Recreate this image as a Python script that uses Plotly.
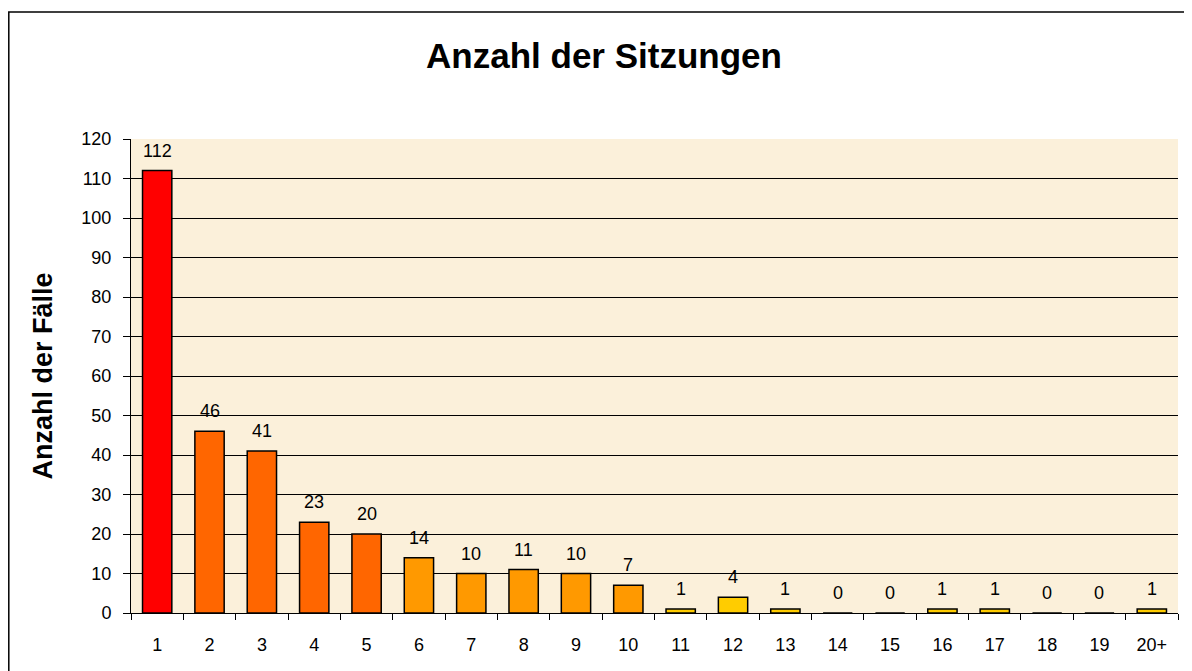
import plotly.graph_objects as go

categories = ["1","2","3","4","5","6","7","8","9","10","11","12","13","14","15","16","17","18","19","20+"]
values = [112, 46, 41, 23, 20, 14, 10, 11, 10, 7, 1, 4, 1, 0, 0, 1, 1, 0, 0, 1]
bar_colors = ["#FF0000"] + ["#FF6600"]*4 + ["#FF9900"]*5 + ["#FFCC00"]*10

# page body has an 8px margin, so the figure is slightly smaller
W, H = 1184, 663
L, R, T, B = 123, 14, 131, 58
pw, ph = W - L - R, H - T - B

fig = go.Figure(go.Bar(
    x=categories, y=values,
    marker=dict(color=bar_colors, line=dict(color="black", width=1.5)),
    cliponaxis=False,
))

for i, v in enumerate(values):
    fig.add_annotation(x=i, y=v, text=str(v), showarrow=False, yanchor="bottom",
                       yshift=8, font=dict(size=18, color="black"))

fig.update_layout(
    width=W, height=H,
    margin=dict(l=L, r=R, t=T, b=B),
    paper_bgcolor="white", plot_bgcolor="#FBF0DA",
    font=dict(family="Arial, Liberation Sans", size=18, color="black"),
    title=dict(text="<b>Anzahl der Sitzungen</b>", xref="container", x=(604 - 8) / W,
               xanchor="center", y=1 - (56 - 8) / H, yanchor="middle", font=dict(size=35)),
    bargap=0.44, showlegend=False,
    xaxis=dict(type="category", showgrid=False, tickson="boundaries", ticks="outside",
               ticklen=6, tickcolor="black", showline=True, linecolor="black", linewidth=1,
               tickfont=dict(size=18), ticklabelstandoff=15),
    yaxis=dict(range=[0, 120], dtick=10, showgrid=True, gridcolor="black", gridwidth=0.8,
               ticks="outside", ticklen=7, tickcolor="black", showline=True, linecolor="black",
               linewidth=1, zeroline=False, tickfont=dict(size=18), ticklabelstandoff=8,
               title=dict(text="<b>Anzahl der Fälle</b>", font=dict(size=27), standoff=20)),
)

# outer chart border
x0 = (0.8 - L) / pw
x1 = (1182 - L) / pw
ytop = (H - B - 4) / ph
ybot = (H - B - 700) / ph
fig.add_shape(type="rect", xref="paper", yref="paper", x0=x0, x1=x1, y0=ybot, y1=ytop,
              line=dict(color="black", width=1.5), layer="below")

fig.write_html("out.html")
